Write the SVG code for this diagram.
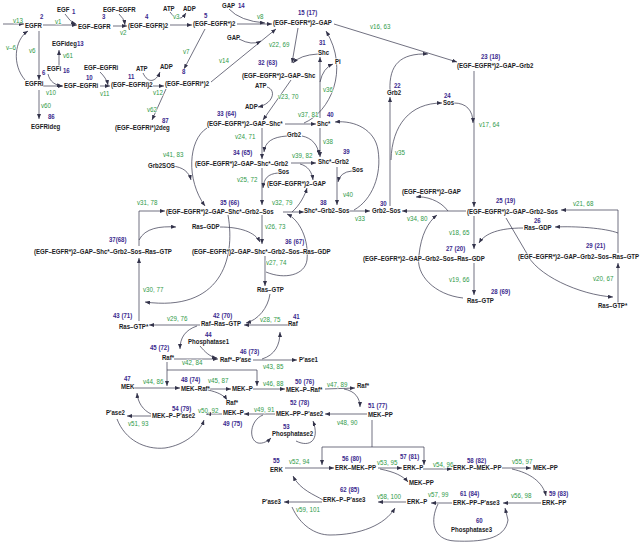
<svg xmlns="http://www.w3.org/2000/svg" width="641" height="542" viewBox="0 0 641 542">
<style>
text{font-family:"Liberation Sans",Arial,sans-serif;font-size:7.4px;font-weight:bold;paint-order:stroke;stroke:#fff;stroke-width:1.2px;stroke-linejoin:round;transform-box:fill-box;transform-origin:0 0;transform:scaleX(.82)}
.k{fill:#1c1c24}.b{fill:#3a2a8e}.g{fill:#2f9a48;font-weight:normal;font-size:7.6px}
.c path{fill:none;stroke:#33334a;stroke-width:0.7}
.c .a{marker-end:url(#ah)}
</style>
<defs>
<marker id="ah" markerUnits="userSpaceOnUse" markerWidth="5" markerHeight="4" refX="5" refY="2" orient="auto"><path d="M0,0 L5,2 L0,4 z" fill="#33334a"/></marker>
</defs>
<rect width="641" height="542" fill="#fff"/>
<g class="c" id="connectors">
<path class="a" d="M3,24 L24,24"/>
<path class="a" d="M43,25 L77,25"/>
<path class="a" d="M65,14 Q70,22 76,24"/>
<path class="a" d="M113,26 L127,26"/>
<path class="a" d="M119,14 Q124,18 125,25"/>
<path class="a" d="M170,25 L192,25"/>
<path class="a" d="M170,12 Q178,25 186,13"/>
<path class="a" d="M237,24 L272,24"/>
<path class="a" d="M229,9 Q240,21 265,23"/>
<path class="a" d="M205,29 L184,69"/>
<path class="a" d="M211,82 L276,29"/>
<path class="a" d="M239,39 Q252,46 261,41"/>
<path class="a" d="M298,28 L292,63"/>
<path class="a" d="M318,54 Q300,55 293,63"/>
<path class="a" d="M334,24 L457,62"/>
<path class="a" d="M390,90 C389,65 400,53 428,54"/>
<path class="a" d="M474,71 L474,207"/>
<path class="a" d="M454,103 C466,103 473,110 473,123"/>
<path class="a" d="M390,206 L390,97"/>
<path class="a" d="M391,160 C392,125 410,103 442,103"/>
<path class="a" d="M320,118 L320,57"/>
<path class="a" d="M320,82 Q323,68 333,64"/>
<path class="a" d="M285,124 L316,124"/>
<path class="a" d="M304,123 C330,112 350,70 326,31"/>
<path class="a" d="M291,80 L263,120"/>
<path class="a" d="M267,87 C277,90 273,104 258,107"/>
<path class="a" d="M262,128 L262,159"/>
<path class="a" d="M287,136 C272,137 265,142 264,152"/>
<path class="a" d="M302,136 C312,138 318,145 319,155"/>
<path class="a" d="M320,128 L320,157"/>
<path class="a" d="M291,163 L316,163"/>
<path class="a" d="M300,164 C308,166 312,172 313,180"/>
<path class="a" d="M337,167 L337,205"/>
<path class="a" d="M352,171 Q340,172 338,182"/>
<path class="a" d="M262,168 L262,205"/>
<path class="a" d="M278,173 C268,174 264,178 263,188"/>
<path class="a" d="M207,128 C188,140 186,180 205,206"/>
<path class="a" d="M172,166 C183,167 189,172 191,180"/>
<path class="a" d="M283,212 L304,212"/>
<path class="a" d="M292,212 C300,205 305,195 307,188"/>
<path class="a" d="M349,211 L370,211"/>
<path class="a" d="M354,210 C372,200 382,175 378,150 C375,130 355,120 335,122"/>
<path class="a" d="M466,211 L402,211"/>
<path class="a" d="M448,211 C440,200 425,196 416,197"/>
<path class="a" d="M474,216 L474,249"/>
<path class="a" d="M523,228 C500,228 485,233 479,243"/>
<path class="a" d="M474,263 L474,295"/>
<path class="a" d="M463,298 C435,295 415,275 419,255 C421,235 428,222 437,215"/>
<path class="a" d="M618,253 L618,210 L561,210"/>
<path class="a" d="M618,233 C605,228 575,226 555,227"/>
<path class="a" d="M618,303 L618,263"/>
<path class="a" d="M506,218 L526,252 C535,275 580,295 613,297"/>
<path class="a" d="M139,246 L139,211 L165,211"/>
<path class="a" d="M139,240 C145,228 160,226 176,227"/>
<path class="a" d="M262,215 L262,244"/>
<path class="a" d="M220,227 C240,227 255,232 260,242"/>
<path class="a" d="M265,256 L265,286"/>
<path class="a" d="M266,272 C285,280 305,275 307,260 C309,240 300,220 287,214"/>
<path class="a" d="M139,321 L139,258"/>
<path class="a" d="M228,215 C236,260 220,312 145,302"/>
<path class="a" d="M200,325 L149,325"/>
<path class="a" d="M197,326 C185,330 180,338 180,349"/>
<path class="a" d="M288,325 L244,325"/>
<path class="a" d="M270,294 C268,308 258,320 246,323"/>
<path class="a" d="M174,359 L218,359"/>
<path class="a" d="M200,346 C205,352 210,357 217,358"/>
<path class="a" d="M253,360 L297,360"/>
<path class="a" d="M262,359 C275,355 280,345 280,332"/>
<path class="a" d="M167,362 L167,386"/>
<path class="a" d="M167,370 L257,370 L257,386"/>
<path class="a" d="M134,388 L180,388"/>
<path class="a" d="M210,389 L231,389"/>
<path class="a" d="M208,390 C217,392 224,395 227,400"/>
<path class="a" d="M253,389 L285,389"/>
<path class="a" d="M325,389 L355,388"/>
<path class="a" d="M344,389 C355,391 360,398 360,407"/>
<path class="a" d="M367,414 L325,414"/>
<path class="a" d="M275,414 L244,414"/>
<path class="a" d="M263,415 C250,420 248,440 258,443 C263,444 268,441 271,438"/>
<path class="a" d="M296,441 C310,448 320,440 313,421"/>
<path class="a" d="M222,414 L206,414"/>
<path class="a" d="M117,419 C125,440 145,450 165,448 C185,445 200,432 204,420"/>
<path class="a" d="M151,416 L127,416"/>
<path class="a" d="M151,414 C143,410 138,403 137,393"/>
<path d="M372,420 L372,447 M322,447 L424,447"/>
<path class="a" d="M322,447 L322,465"/>
<path class="a" d="M424,447 L424,465"/>
<path class="a" d="M285,468 L334,468"/>
<path class="a" d="M378,468 L402,468"/>
<path class="a" d="M380,469 C395,472 403,476 408,482"/>
<path class="a" d="M423,469 L452,469"/>
<path class="a" d="M502,468 L531,468"/>
<path class="a" d="M512,469 C530,473 543,482 546,496"/>
<path class="a" d="M541,503 L503,503"/>
<path class="a" d="M452,503 L431,503"/>
<path class="a" d="M438,504 C430,520 432,540 455,541 C480,542 505,540 508,520 L505,508"/>
<path class="a" d="M406,502 L378,502"/>
<path class="a" d="M292,507 C300,525 315,535 330,535 C360,535 385,525 395,508"/>
<path class="a" d="M322,502 L284,502"/>
<path class="a" d="M323,500 C315,495 300,490 293,476"/>
<path class="a" d="M25,80 C12,65 14,40 28,31"/>
<path class="a" d="M39,31 L39,80"/>
<path class="a" d="M43,86 L63,86"/>
<path class="a" d="M48,74 C50,82 55,85 62,86"/>
<path class="a" d="M59,66 L59,50"/>
<path class="a" d="M39,90 L39,119"/>
<path class="a" d="M100,86 L110,86"/>
<path class="a" d="M100,72 C104,76 107,80 108,85"/>
<path class="a" d="M153,86 L164,86"/>
<path class="a" d="M143,73 C148,84 156,82 160,72"/>
<path class="a" d="M166,89 L152,120"/>
</g>
<g id="labels-rates">
<text class="g" x="13" y="23">v13</text><text class="g" x="55" y="24">v1</text><text class="g" x="120" y="35">v2</text><text class="g" x="173" y="19">v3</text><text class="g" x="257" y="19">v8</text>
<text class="g" x="269" y="47">v22, 69</text><text class="g" x="370" y="29">v16, 63</text><text class="g" x="183" y="54">v7</text><text class="g" x="219" y="63">v14</text>
<text class="g" x="6" y="50">v–6</text><text class="g" x="29" y="53">v6</text><text class="g" x="63" y="58">v61</text><text class="g" x="46" y="95">v10</text><text class="g" x="100" y="96">v11</text>
<text class="g" x="153" y="95">v12</text><text class="g" x="41" y="108">v60</text><text class="g" x="147" y="112">v62</text><text class="g" x="278" y="99">v23, 70</text><text class="g" x="323" y="92">v36</text>
<text class="g" x="479" y="127">v17, 64</text><text class="g" x="298" y="117">v37, 81</text><text class="g" x="235" y="139">v24, 71</text><text class="g" x="323" y="144">v38</text><text class="g" x="292" y="158">v39, 82</text>
<text class="g" x="395" y="155">v35</text><text class="g" x="163" y="157">v41, 83</text><text class="g" x="237" y="182">v25, 72</text><text class="g" x="343" y="197">v40</text><text class="g" x="355" y="221">v33</text>
<text class="g" x="407" y="221">v34, 80</text><text class="g" x="573" y="206">v21, 68</text><text class="g" x="449" y="235">v18, 65</text><text class="g" x="449" y="282">v19, 66</text><text class="g" x="593" y="281">v20, 67</text>
<text class="g" x="137" y="205">v31, 78</text><text class="g" x="272" y="205">v32, 79</text><text class="g" x="265" y="229">v26, 73</text><text class="g" x="266" y="265">v27, 74</text><text class="g" x="143" y="292">v30, 77</text>
<text class="g" x="167" y="321">v29, 76</text><text class="g" x="260" y="322">v28, 75</text><text class="g" x="182" y="365">v42, 84</text><text class="g" x="263" y="369">v43, 85</text><text class="g" x="143" y="384">v44, 86</text>
<text class="g" x="208" y="383">v45, 87</text><text class="g" x="263" y="386">v46, 88</text><text class="g" x="327" y="387">v47, 89</text><text class="g" x="198" y="413">v50, 92</text><text class="g" x="254" y="412">v49, 91</text>
<text class="g" x="337" y="425">v48, 90</text><text class="g" x="128" y="426">v51, 93</text><text class="g" x="289" y="464">v52, 94</text><text class="g" x="377" y="465">v53, 95</text><text class="g" x="433" y="467">v54, 96</text>
<text class="g" x="512" y="464">v55, 97</text><text class="g" x="296" y="512">v59, 101</text><text class="g" x="377" y="499">v58, 100</text><text class="g" x="428" y="497">v57, 99</text><text class="g" x="511" y="498">v56, 98</text>
</g>
<g id="n1"><text class="k" x="57" y="12">EGF</text><text class="b" x="72" y="14">1</text></g>
<g id="n2"><text class="b" x="40" y="19">2</text><text class="k" x="25" y="28">EGFR</text></g>
<g id="n3"><text class="b" x="102" y="19">3</text><text class="k" x="78" y="29">EGF–EGFR</text></g>
<g id="n3b"><text class="k" x="103" y="12">EGF–EGFR</text></g>
<g id="n4"><text class="b" x="145" y="19">4</text><text class="k" x="128" y="28">(EGF–EGFR)2</text></g>
<g id="atp1"><text class="k" x="163" y="11">ATP</text><text class="k" x="183" y="11">ADP</text></g>
<g id="n5"><text class="b" x="204" y="18">5</text><text class="k" x="193" y="26">(EGF–EGFR*)2</text></g>
<g id="n14"><text class="k" x="222" y="8">GAP</text><text class="b" x="238" y="8">14</text></g>
<g id="n15"><text class="b" x="298" y="15">15 (17)</text><text class="k" x="273" y="25">(EGF–EGFR*)2–GAP</text></g>
<g id="gap2"><text class="k" x="227" y="40">GAP</text></g>
<g id="n31"><text class="b" x="319" y="45">31</text><text class="k" x="318" y="55">Shc</text></g>
<g id="pi"><text class="k" x="335" y="64">Pi</text></g>
<g id="n23"><text class="b" x="481" y="59">23 (18)</text><text class="k" x="457" y="68">(EGF–EGFR*)2–GAP–Grb2</text></g>
<g id="adp2"><text class="k" x="160" y="69">ADP</text></g>
<g id="n8"><text class="b" x="182" y="74">8</text><text class="k" x="165" y="86">(EGF–EGFRi*)2</text></g>
<g id="n13"><text class="k" x="52" y="46">EGFideg</text><text class="b" x="77" y="46">13</text></g>
<g id="n16"><text class="k" x="47" y="71">EGFi</text><text class="b" x="63" y="73">16</text></g>
<g id="n6"><text class="b" x="42" y="75">6</text><text class="k" x="25" y="86">EGFRi</text></g>
<g id="n10"><text class="b" x="86" y="80">10</text><text class="k" x="64" y="88">EGF–EGFRi</text></g>
<g id="n10b"><text class="k" x="84" y="70">EGF–EGFRi</text></g>
<g id="n11"><text class="b" x="128" y="79">11</text><text class="k" x="111" y="87">(EGF–EGFRi)2</text></g>
<g id="atp3"><text class="k" x="136" y="71">ATP</text></g>
<g id="n86"><text class="b" x="48" y="119">86</text><text class="k" x="31" y="129">EGFRideg</text></g>
<g id="n87"><text class="b" x="162" y="123">87</text><text class="k" x="115" y="130">(EGF–EGFRi*)2deg</text></g>
<g id="n32"><text class="b" x="258" y="65">32 (63)</text><text class="k" x="242" y="78">(EGF–EGFR*)2–GAP–Shc</text></g>
<g id="atp2"><text class="k" x="255" y="88">ATP</text><text class="k" x="245" y="109">ADP</text></g>
<g id="n22"><text class="b" x="394" y="88">22</text><text class="k" x="387" y="95">Grb2</text></g>
<g id="n24"><text class="b" x="444" y="98">24</text><text class="k" x="443" y="105">Sos</text></g>
<g id="n33"><text class="b" x="217" y="116">33 (64)</text><text class="k" x="207" y="126">(EGF–EGFR*)2–GAP–Shc*</text></g>
<g id="n40"><text class="k" x="317" y="126">Shc*</text><text class="b" x="327" y="117">40</text></g>
<g id="grb2b"><text class="k" x="287" y="137">Grb2</text></g>
<g id="n34"><text class="b" x="233" y="155">34 (65)</text><text class="k" x="195" y="166">(EGF–EGFR*)2–GAP–Shc*–Grb2</text></g>
<g id="n39"><text class="k" x="318" y="164">Shc*–Grb2</text><text class="b" x="343" y="154">39</text></g>
<g id="grb2sos"><text class="k" x="148" y="168">Grb2SOS</text></g>
<g id="sos1"><text class="k" x="278" y="174">Sos</text></g>
<g id="sos2"><text class="k" x="352" y="172">Sos</text></g>
<g id="gapc2"><text class="k" x="267" y="186">(EGF–EGFR*)2–GAP</text></g>
<g id="n38"><text class="b" x="320" y="205">38</text><text class="k" x="304" y="213">Shc*–Grb2–Sos</text></g>
<g id="n30"><text class="b" x="380" y="206">30</text><text class="k" x="372" y="213">Grb2–Sos</text></g>
<g id="gapc3"><text class="k" x="402" y="194">(EGF–EGFR*)2–GAP</text></g>
<g id="n25"><text class="b" x="496" y="203">25 (19)</text><text class="k" x="467" y="214">(EGF–EGFR*)2–GAP–Grb2–Sos</text></g>
<g id="n26"><text class="b" x="534" y="223">26</text><text class="k" x="524" y="230">Ras–GDP</text></g>
<g id="n27"><text class="b" x="446" y="251">27 (20)</text><text class="k" x="363" y="261">(EGF–EGFR*)2–GAP–Grb2–Sos–Ras–GDP</text></g>
<g id="n29"><text class="b" x="586" y="248">29 (21)</text><text class="k" x="518" y="259">(EGF–EGFR*)2–GAP–Grb2–Sos–Ras–GTP</text></g>
<g id="n28"><text class="b" x="491" y="294">28 (69)</text><text class="k" x="467" y="303">Ras–GTP</text></g>
<g id="rasgtps"><text class="k" x="598" y="308">Ras–GTP*</text></g>
<g id="n35"><text class="b" x="220" y="205">35 (66)</text><text class="k" x="166" y="214">(EGF–EGFR*)2–GAP–Shc*–Grb2–Sos</text></g>
<g id="rasgdp2"><text class="k" x="192" y="229">Ras–GDP</text></g>
<g id="n37"><text class="b" x="109" y="242">37(68)</text><text class="k" x="34" y="254">(EGF–EGFR*)2–GAP–Shc*–Grb2–Sos–Ras–GTP</text></g>
<g id="n36"><text class="b" x="285" y="244">36 (67)</text><text class="k" x="192" y="254">(EGF–EGFR*)2–GAP–Shc*–Grb2–Sos–Ras–GDP</text></g>
<g id="rasgtp2"><text class="k" x="257" y="292">Ras–GTP</text></g>
<g id="n43"><text class="b" x="113" y="318">43 (71)</text><text class="k" x="119" y="329">Ras–GTP*</text></g>
<g id="n42"><text class="b" x="213" y="318">42 (70)</text><text class="k" x="201" y="326">Raf–Ras–GTP</text></g>
<g id="n41"><text class="b" x="293" y="319">41</text><text class="k" x="288" y="326">Raf</text></g>
<g id="n44"><text class="b" x="205" y="337">44</text><text class="k" x="188" y="344">Phosphatase1</text></g>
<g id="n45"><text class="b" x="150" y="350">45 (72)</text><text class="k" x="162" y="360">Raf*</text></g>
<g id="n46"><text class="b" x="240" y="354">46 (73)</text><text class="k" x="220" y="362">Raf*–P'ase</text></g>
<g id="pase1"><text class="k" x="299" y="362">P'ase1</text></g>
<g id="n47"><text class="b" x="124" y="381">47</text><text class="k" x="121" y="389">MEK</text></g>
<g id="n48"><text class="b" x="181" y="382">48 (74)</text><text class="k" x="181" y="391">MEK–Raf*</text></g>
<g id="mekp1"><text class="k" x="232" y="391">MEK–P</text></g>
<g id="n50"><text class="b" x="295" y="384">50 (76)</text><text class="k" x="286" y="392">MEK–P–Raf*</text></g>
<g id="rafs2"><text class="k" x="357" y="388">Raf*</text></g>
<g id="rafs3"><text class="k" x="226" y="405">Raf*</text></g>
<g id="n52"><text class="b" x="290" y="405">52 (78)</text><text class="k" x="276" y="416">MEK–PP–P'ase2</text></g>
<g id="n51"><text class="b" x="368" y="408">51 (77)</text><text class="k" x="368" y="417">MEK–PP</text></g>
<g id="n54"><text class="b" x="172" y="411">54 (79)</text><text class="k" x="152" y="418">MEK–P–P'ase2</text></g>
<g id="pase2"><text class="k" x="106" y="415">P'ase2</text></g>
<g id="n49"><text class="k" x="223" y="415">MEK–P</text><text class="b" x="223" y="426">49 (75)</text></g>
<g id="n53"><text class="b" x="283" y="429">53</text><text class="k" x="272" y="436">Phosphatase2</text></g>
<g id="n55"><text class="b" x="273" y="463">55</text><text class="k" x="270" y="472">ERK</text></g>
<g id="n56"><text class="b" x="342" y="461">56 (80)</text><text class="k" x="335" y="470">ERK–MEK–PP</text></g>
<g id="n57"><text class="b" x="400" y="459">57 (81)</text><text class="k" x="403" y="470">ERK–P</text></g>
<g id="mekpp2"><text class="k" x="409" y="485">MEK–PP</text></g>
<g id="n58"><text class="b" x="467" y="463">58 (82)</text><text class="k" x="453" y="470">ERK–P–MEK–PP</text></g>
<g id="mekpp3"><text class="k" x="533" y="470">MEK–PP</text></g>
<g id="n62"><text class="b" x="340" y="492">62 (85)</text><text class="k" x="323" y="502">ERK–P–P'ase3</text></g>
<g id="pase3"><text class="k" x="262" y="504">P'ase3</text></g>
<g id="erkp2"><text class="k" x="407" y="504">ERK–P</text></g>
<g id="n61"><text class="b" x="460" y="496">61 (84)</text><text class="k" x="453" y="505">ERK–PP–P'ase3</text></g>
<g id="n59"><text class="b" x="549" y="496">59 (83)</text><text class="k" x="542" y="505">ERK–PP</text></g>
<g id="n60"><text class="b" x="476" y="523">60</text><text class="k" x="451" y="532">Phosphatase3</text></g>
</svg>
